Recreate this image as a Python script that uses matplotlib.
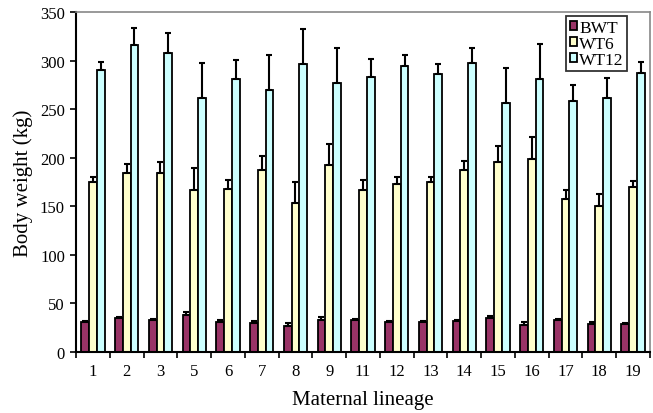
import matplotlib.pyplot as plt
import numpy as np

plt.rcParams['font.family'] = ['Liberation Serif', 'DejaVu Serif']

lineages = ['1', '2', '3', '5', '6', '7', '8', '9', '11', '12', '13', '14',
            '15', '16', '17', '18', '19']

bwt = [31, 34.5, 32.5, 38.5, 31, 30, 27, 33, 33, 31, 31, 32, 35.5, 28, 33, 29, 29]
bwt_err = [1, 1.5, 1.5, 3, 1.5, 2, 2.5, 3, 1, 1, 1, 1, 2, 2.5, 1, 1.5, 1]

wt6 = [175, 184, 184.5, 167, 167.5, 187.5, 153, 192, 167, 173, 175, 187.5,
       196, 199, 158, 150.5, 170]
wt6_err = [5, 10, 11.5, 22, 9.5, 14.5, 22, 22, 10.5, 7, 5, 9.5, 16.5, 22, 9, 12.5, 6]

wt12 = [290, 316.5, 308, 261, 281, 270, 296.5, 277, 283.5, 294, 286, 297.5,
        256, 281, 258, 261, 287]
wt12_err = [9, 17.5, 20, 36.5, 20, 36, 35.5, 36, 18.5, 12, 10, 15, 36.5, 36, 17, 21, 11.5]

series = [('BWT', bwt, bwt_err, '#993366'),
          ('WT6', wt6, wt6_err, '#FFFFCC'),
          ('WT12', wt12, wt12_err, '#CCFFFF')]

fig = plt.figure(figsize=(6.53, 4.14), dpi=100)
ax = fig.add_axes([76 / 653, 1 - 353 / 414, 574 / 653, 340 / 414])

x = np.arange(len(lineages))
w = 0.23
for i, (name, vals, errs, col) in enumerate(series):
    ax.bar(x + (i - 1) * w, vals, w, color=col, edgecolor='black', linewidth=1.3,
           label=name, zorder=2)
    ax.errorbar(x + (i - 1) * w, vals, yerr=[np.zeros(len(errs)), errs], fmt='none',
                ecolor='black', elinewidth=1.5, capsize=2.5, capthick=1.5, zorder=3)

ax.set_xlim(-0.5, len(lineages) - 0.5)
ax.set_ylim(0, 350)
ax.set_yticks(range(0, 351, 50))
ax.set_xticks(x)
ax.set_xticklabels(lineages)
ax.set_xticks(np.arange(len(lineages) + 1) - 0.5, minor=True)
ax.tick_params(axis='x', which='major', length=0, pad=8, labelsize=12)
ax.tick_params(axis='x', which='minor', length=4, width=1.2, direction='out')
ax.tick_params(axis='y', length=4, width=1.2, direction='out', labelsize=12, pad=4)

for s in ['top', 'right']:
    ax.spines[s].set_color('#888888')
    ax.spines[s].set_linewidth(1.2)
for s in ['left', 'bottom']:
    ax.spines[s].set_linewidth(1.5)

ax.set_xlabel('Maternal lineage', fontsize=15, labelpad=8)
ax.set_ylabel('Body weight (kg)', fontsize=15, labelpad=5)

leg = ax.legend(loc='upper right', bbox_to_anchor=(0.96, 0.988), fontsize=12.5,
                frameon=True, fancybox=False, edgecolor='black', borderpad=0.2,
                handlelength=0.45, handleheight=0.45, handletextpad=0.1,
                labelspacing=0.0, borderaxespad=0)
leg.get_frame().set_linewidth(1.3)

fig.savefig('out.png', dpi=100)
